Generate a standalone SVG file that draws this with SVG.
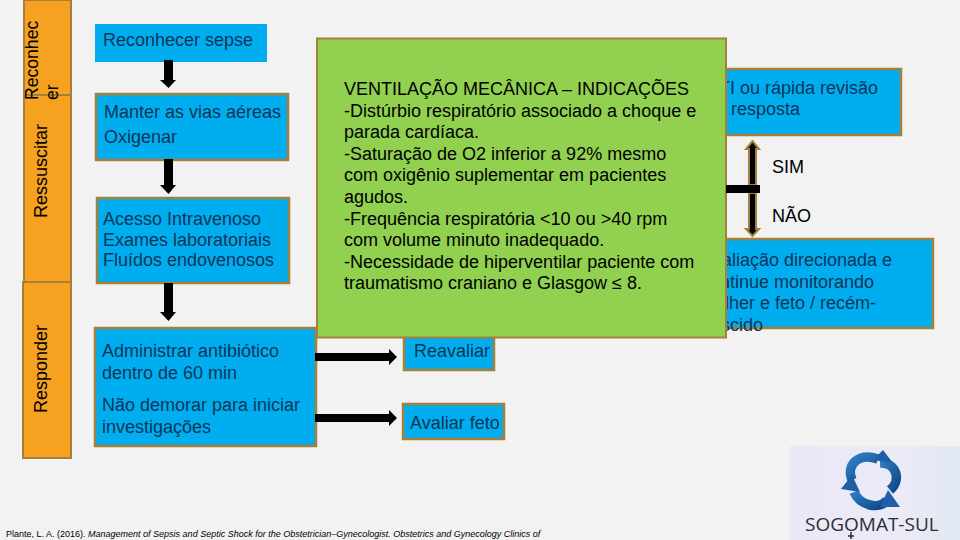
<svg xmlns="http://www.w3.org/2000/svg" width="960" height="540" viewBox="0 0 960 540">
<defs>
<linearGradient id="panel" x1="0" y1="0" x2="1" y2="0"><stop offset="0" stop-color="#eae8f8"/><stop offset="0.65" stop-color="#ebeaf7"/><stop offset="1" stop-color="#dfe9f2"/></linearGradient>
<linearGradient id="swirl" x1="0" y1="0" x2="1" y2="1"><stop offset="0" stop-color="#2f7fc4"/><stop offset="1" stop-color="#104a8c"/></linearGradient>
</defs>
<style>
text{font-family:"Liberation Sans",Arial,sans-serif;font-size:18px}
.side{fill:#f6a11f;stroke:#a5803a;stroke-width:2}
.box{fill:#00adef;stroke:#a5803a;stroke-width:2.5}
.t{fill:#0a3558}
.k{fill:#000}
.v{fill:#000;font-size:17.600px}
.a{fill:#000}
.b{fill:#000;stroke:#a5803a;stroke-width:2}
.s{fill:none;stroke:url(#swirl);stroke-width:9.500}
.h{fill:#1f5fa8}
</style>
<rect width="960" height="540" fill="#f2f2f2"/>
<g id="side-reconhecer"><rect class="side" x="24" y="0" width="47" height="95"/></g>
<g id="side-ressuscitar"><rect class="side" x="24" y="95" width="47" height="187"/>
<text class="k" transform="translate(47,218) rotate(-90)">Ressuscitar</text></g>
<g id="side-responder"><rect class="side" x="23" y="282" width="48" height="176"/>
<text class="k" transform="translate(47,413) rotate(-90)">Responder</text></g>
<g id="side-reconhecer-label"><text class="v" transform="translate(38,100) rotate(-90)">Reconhec</text>
<text class="v" transform="translate(58,100) rotate(-90)">er</text></g>
<g id="n-reconhecer"><rect x="95" y="24" width="172" height="38" fill="#00adef"/><text class="t" x="103" y="46">Reconhecer sepse</text></g>
<g id="n-manter"><rect class="box" x="96" y="94" width="192" height="66"/><text class="t" x="104" y="118">Manter as vias aéreas</text><text class="t" x="104" y="143">Oxigenar</text></g>
<g id="n-acesso"><rect class="box" x="97" y="198" width="192" height="85"/><text class="t" x="103" y="225">Acesso Intravenoso</text><text class="t" x="103" y="246">Exames laboratoriais</text><text class="t" x="103" y="266">Fluídos endovenosos</text></g>
<g id="n-administrar"><rect class="box" x="95" y="328" width="221" height="118"/><text class="t" x="102" y="357">Administrar antibiótico</text><text class="t" x="102" y="379">dentro de 60 min</text><text class="t" x="102" y="411">Não demorar para iniciar</text><text class="t" x="102" y="433">investigações</text></g>
<g id="n-reavaliar"><rect class="box" x="404" y="330" width="90" height="40"/><text class="t" x="414" y="357">Reavaliar</text></g>
<g id="n-feto"><rect class="box" x="403" y="404" width="101" height="35"/><text class="t" x="410" y="429">Avaliar feto</text></g>
<g id="n-uti"><rect class="box" x="700" y="69" width="201" height="66"/><text class="t" x="719" y="94">TI ou rápida revisão</text><text class="t" x="731" y="115">resposta</text></g>
<g id="n-avaliacao"><rect class="box" x="700" y="239" width="233" height="89"/><text class="t" x="722" y="266">aliação direcionada e</text><text class="t" x="720" y="288">ntinue monitorando</text><text class="t" x="725" y="309">lher e feto / recém-</text><text class="t" x="721" y="331">scido</text></g>
<g id="n-ventilacao"><rect x="317" y="38.500" width="409" height="299" fill="#92d050" stroke="#a5803a" stroke-width="2"/>
<text class="k" x="344" y="95">VENTILAÇÃO MECÂNICA – INDICAÇÕES</text>
<text class="k" x="344" y="117">-Distúrbio respiratório associado a choque e</text>
<text class="k" x="344" y="138">parada cardíaca.</text>
<text class="k" x="344" y="160">-Saturação de O2 inferior a 92% mesmo</text>
<text class="k" x="344" y="181">com oxigênio suplementar em pacientes</text>
<text class="k" x="344" y="203">agudos.</text>
<text class="k" x="344" y="225">-Frequência respiratória &lt;10 ou &gt;40 rpm</text>
<text class="k" x="344" y="246">com volume minuto inadequado.</text>
<text class="k" x="344" y="268">-Necessidade de hiperventilar paciente com</text>
<text class="k" x="344" y="289">traumatismo craniano e Glasgow ≤ 8.</text></g>
<g id="connectors">
<polygon class="a" points="164,60 173,60 173,80 176,80 168.500,88 160,80 164,80"/>
<polygon class="a" points="164,159 173,159 173,185 176,185 168.500,194 160,185 164,185"/>
<polygon class="a" points="164,283 173,283 173,312 176,312 168.500,321 160,312 164,312"/>
<polygon class="a" points="315,353 389,353 389,349 397,357 389,365 389,361 315,361"/>
<polygon class="a" points="315,414 389,414 389,410 397,418 389,426 389,422 315,422"/>
<polygon class="b" points="749,185 749,149 746,149 752.500,141 759,149 756,149 756,185"/>
<polygon class="b" points="749,193 749,229 746,229 752.500,236 759,229 756,229 756,193"/>
<rect class="a" x="726" y="185" width="34" height="8"/>
</g>
<g id="label-sim"><text class="k" x="772" y="173">SIM</text></g>
<g id="label-nao"><text class="k" x="772" y="222">NÃO</text></g>
<g id="footer"><text x="6" y="537" fill="#000" style="font-size:9px">Plante, L. A. (2016). <tspan font-style="italic">Management of Sepsis and Septic Shock for the Obstetrician–Gynecologist. Obstetrics and Gynecology Clinics of</tspan></text></g>
<g id="logo"><rect x="790" y="446" width="170" height="94" fill="url(#panel)"/>
<path class="s" d="M878,459 C858,452 846,465 852,480"/>
<path class="s" d="M854,492 C860,506 880,510 887,500"/>
<path class="s" d="M890,490 C902,480 896,462 880,463"/>
<polygon class="h" points="883,450 893,463 873,460"/>
<polygon class="h" points="841,489 852,475 860,492"/>
<polygon class="h" points="888,490 900,507 880,507"/>
<text x="805" y="531" fill="#2d2d33" style="font-family:'Open Sans',sans-serif;font-size:19px">SOGOMAT-SUL</text>
<path d="M851,532 V539 M848,536 H854" stroke="#2d2d33" stroke-width="1.500" fill="none"/></g>
</svg>
